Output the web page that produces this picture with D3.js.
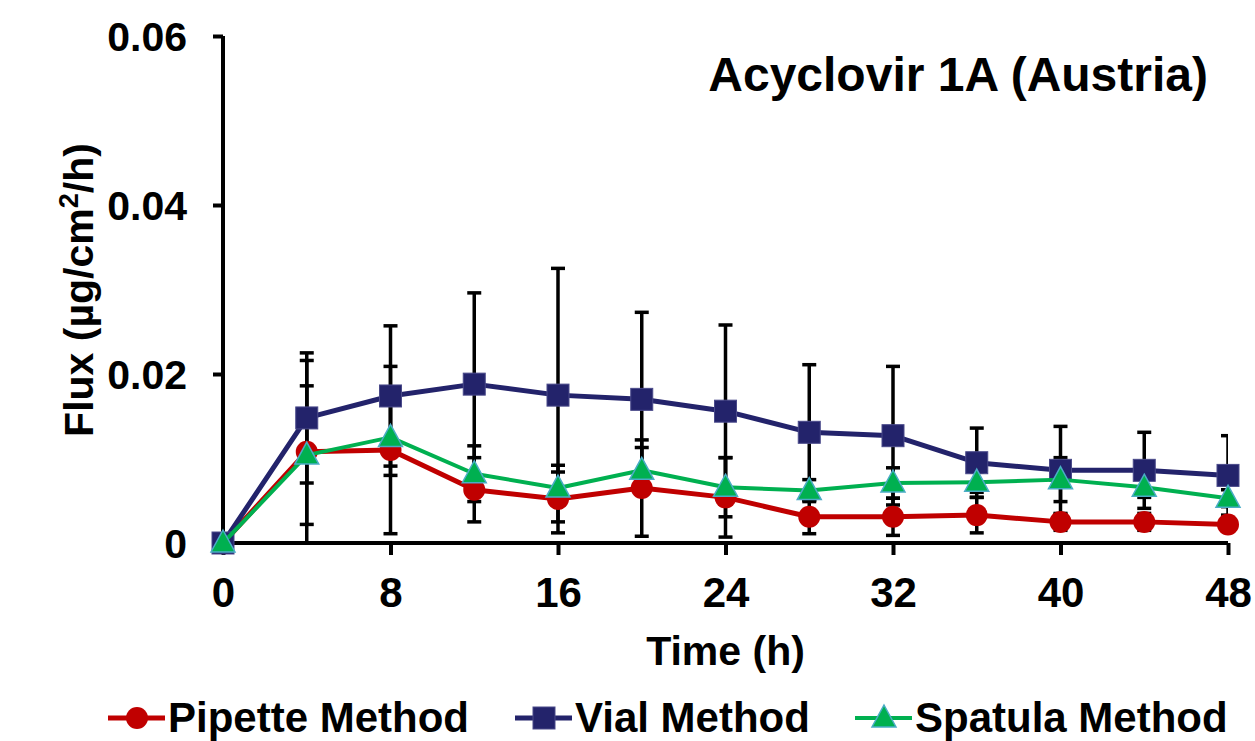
<!DOCTYPE html>
<html>
<head>
<meta charset="utf-8">
<script src="https://cdn.jsdelivr.net/npm/d3@7"></script>
<style>
  html, body { margin: 0; padding: 0; background: #fff; }
  svg { display: block; font-family: "Liberation Sans", Arial, sans-serif; font-weight: bold; }
</style>
</head>
<body>
<svg id="chart" width="1255" height="741"></svg>
<script>
// data
const times = [0, 4, 8, 12, 16, 20, 24, 28, 32, 36, 40, 44, 48];
const pipette    = [0, 0.0108, 0.0110, 0.0063, 0.0052, 0.0065, 0.0054, 0.0031, 0.0031, 0.0033, 0.0025, 0.0025, 0.0022];
const pipetteErr = [0, 0.0108, 0.0099, 0.0038, 0.0040, 0.0057, 0.0047, 0.0020, 0.0022, 0.0021, 0.0010, 0.0010, 0.0008];
const vial       = [0, 0.0148, 0.0174, 0.0188, 0.0175, 0.0170, 0.0156, 0.0131, 0.0127, 0.0095, 0.0086, 0.0086, 0.0080];
const vialErr    = [0, 0.0077, 0.0083, 0.0108, 0.0150, 0.0103, 0.0102, 0.0080, 0.0082, 0.0041, 0.0052, 0.0045, 0.0047];
const spatula    = [0, 0.0104, 0.0125, 0.0082, 0.0065, 0.0086, 0.0066, 0.0062, 0.0071, 0.0072, 0.0075, 0.0066, 0.0053];
const spatulaErr = [0, 0.0082, 0.0045, 0.0033, 0.0019, 0.0027, 0.0035, 0.0013, 0.0018, 0.0012, 0.0026, 0.0012, 0.0010];
const xTicks = [0, 8, 16, 24, 32, 40, 48];
const yTicks = [0, 0.02, 0.04, 0.06];
const yTickLabels = ['0', '0.02', '0.04', '0.06'];

const series = [
  { name: 'Pipette Method', values: pipette, err: pipetteErr, color: '#C00000', width: 5, shape: 'circle' },
  { name: 'Vial Method',    values: vial,    err: vialErr,    color: '#23236B', width: 5, shape: 'square' },
  { name: 'Spatula Method', values: spatula, err: spatulaErr, color: '#00B050', width: 4, shape: 'triangle' }
];

const svg = d3.select('#chart');
const x = d3.scaleLinear().domain([0, 48]).range([223, 1228]);
const y = d3.scaleLinear().domain([0, 0.06]).range([543, 36]);

svg.append('clipPath').attr('id', 'plot')
  .append('rect')
  .attr('x', x(0)).attr('y', y(0.06))
  .attr('width', x(48) - x(0)).attr('height', y(0) - y(0.06));

// error bars go under the lines and markers
const eb = svg.append('g').attr('clip-path', 'url(#plot)')
  .attr('stroke', '#000').attr('stroke-width', 3.5);
series.forEach(s => {
  times.forEach((t, i) => {
    if (!s.err[i]) return;
    const lo = s.values[i] - s.err[i];
    const hi = s.values[i] + s.err[i];
    const cx = x(t);
    eb.append('line').attr('x1', cx).attr('x2', cx).attr('y1', y(lo)).attr('y2', y(hi));
    eb.append('line').attr('x1', cx - 7).attr('x2', cx + 7).attr('y1', y(hi)).attr('y2', y(hi));
    if (lo > 0) eb.append('line').attr('x1', cx - 7).attr('x2', cx + 7).attr('y1', y(lo)).attr('y2', y(lo));
  });
});

// axes
const yAxis = svg.append('g').attr('transform', `translate(${x(0)},0)`)
  .call(d3.axisLeft(y).tickValues(yTicks).tickSize(10).tickPadding(26)
    .tickFormat((d, i) => yTickLabels[i]));
const xAxis = svg.append('g').attr('transform', `translate(0,${y(0)})`)
  .call(d3.axisBottom(x).tickValues(xTicks).tickSize(12).tickPadding(22));
[yAxis, xAxis].forEach(a => {
  a.select('.domain').attr('stroke', '#000').attr('stroke-width', 4);
  a.selectAll('.tick line').attr('stroke', '#000').attr('stroke-width', 4);
  a.selectAll('.tick text').attr('fill', '#000').attr('font-family', '"Liberation Sans", Arial, sans-serif')
    .attr('font-weight', 'bold');
});
yAxis.select('.domain').attr('d', `M0,${y(0.06)}V${y(0)}`);
xAxis.select('.domain').attr('d', `M${x(0)},0H${x(48)}`);
yAxis.selectAll('.tick text').attr('font-size', 41).attr('dy', '0.36em');
xAxis.selectAll('.tick text').attr('font-size', 42);

function marker(g, shape, cx, cy, color) {
  if (shape === 'circle') {
    g.append('circle').attr('cx', cx).attr('cy', cy).attr('r', 11).attr('fill', color);
  } else if (shape === 'square') {
    g.append('rect').attr('x', cx - 11).attr('y', cy - 11).attr('width', 22).attr('height', 22)
      .attr('fill', color).attr('stroke', '#4a4a8a').attr('stroke-width', 1);
  } else {
    g.append('path').attr('d', `M${cx},${cy - 13}L${cx + 12},${cy + 9}L${cx - 12},${cy + 9}Z`)
      .attr('fill', color).attr('stroke', '#4BACC6').attr('stroke-width', 1.5);
  }
}

const line = d3.line().x((d, i) => x(times[i])).y(d => y(d));
series.forEach(s => {
  const g = svg.append('g');
  g.append('path').datum(s.values).attr('d', line)
    .attr('fill', 'none').attr('stroke', s.color).attr('stroke-width', s.width)
    .attr('stroke-linejoin', 'round');
  s.values.forEach((v, i) => marker(g, s.shape, x(times[i]), y(v), s.color));
});

// title and axis titles
svg.append('text').attr('x', 1208).attr('y', 91).attr('text-anchor', 'end')
  .attr('font-size', 48).text('Acyclovir 1A (Austria)');
svg.append('text').attr('x', x(24)).attr('y', 665).attr('text-anchor', 'middle')
  .attr('font-size', 41).text('Time (h)');
const yl = svg.append('text').attr('transform', 'translate(93,290) rotate(-90)')
  .attr('text-anchor', 'middle').attr('font-size', 41);
yl.append('tspan').text('Flux (µg/cm');
yl.append('tspan').attr('font-size', 27).attr('dy', -15).text('2');
yl.append('tspan').attr('dy', 15).text('/h)');

// legend
const legendX = [108, 515, 855];
series.forEach((s, i) => {
  const g = svg.append('g').attr('transform', `translate(${legendX[i]},718)`);
  g.append('line').attr('x1', 0).attr('x2', 57).attr('y1', 0).attr('y2', 0)
    .attr('stroke', s.color).attr('stroke-width', s.width);
  marker(g, s.shape, 29, 0, s.color);
  g.append('text').attr('x', 60).attr('y', 14).attr('font-size', 42).text(s.name);
});
</script>
</body>
</html>
